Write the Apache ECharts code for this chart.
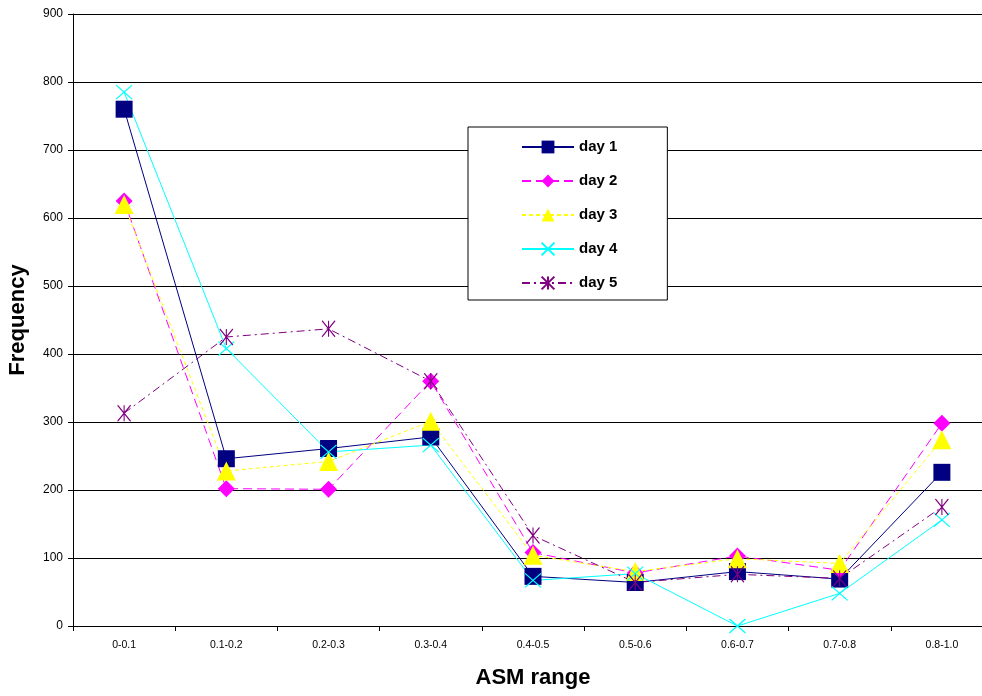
<!DOCTYPE html>
<html>
<head>
<meta charset="utf-8">
<script src="https://cdn.jsdelivr.net/npm/echarts@6/dist/echarts.min.js"></script>
<style>
  html, body { margin: 0; padding: 0; background: #fff; }
  #chart { width: 982px; height: 696px; }
</style>
</head>
<body>
<div id="chart"></div>
<script>
// ASM range bins on the x axis
const categories = ['0-0.1', '0.1-0.2', '0.2-0.3', '0.3-0.4', '0.4-0.5', '0.5-0.6', '0.6-0.7', '0.7-0.8', '0.8-1.0'];

// Frequency per bin for each day
const day1 = [760, 246, 261, 278, 73, 64, 80, 69, 226];
const day2 = [625, 202, 201, 360, 108, 78, 103, 82, 298];
const day3 = [620, 228, 242, 301, 104, 80, 99, 92, 274];
const day4 = [785, 408, 256, 266, 67, 77, 0, 48, 156];
const day5 = [313, 425, 437, 360, 133, 64, 76, 70, 175];

const seriesNames = ['day 1', 'day 2', 'day 3', 'day 4', 'day 5'];

const FONT = '"Liberation Sans", Arial, sans-serif';
const crossPath = 'path://M0,0L10,10M10,0L0,10';
const starPath = 'path://M0,0L10,10M10,0L0,10M5,0L5,10';

const chart = echarts.init(document.getElementById('chart'), null, { renderer: 'canvas' });

function lineSeries(name, data, color, lineType, symbol, size, strokeOnly) {
  return {
    name: name,
    type: 'line',
    data: data,
    symbol: symbol,
    symbolSize: size,
    showAllSymbol: true,
    animation: false,
    lineStyle: { color: color, width: 1, type: lineType },
    itemStyle: strokeOnly
      ? { color: 'rgba(0,0,0,0)', borderColor: color, borderWidth: 1.2 }
      : { color: color, borderColor: color, borderWidth: 0 },
    emphasis: { disabled: true }
  };
}

chart.setOption({
  backgroundColor: '#ffffff',
  animation: false,
  textStyle: { fontFamily: FONT },
  // the last category column runs slightly past the right edge of the canvas
  grid: { left: 73, top: 14, bottom: 70, right: -11, containLabel: false, outerBoundsMode: 'none' },
  legend: {
    orient: 'vertical',
    left: 468,
    top: 127,
    padding: [12, 50, 9, 53],
    itemWidth: 52,
    itemHeight: 16,
    itemGap: 18,
    backgroundColor: '#ffffff',
    borderColor: '#000000',
    borderWidth: 1,
    z: 10,
    textStyle: { fontFamily: FONT, fontSize: 15, fontWeight: 'bold', color: '#000', lineHeight: 16 },
    data: seriesNames
  },
  xAxis: {
    type: 'category',
    data: categories,
    boundaryGap: true,
    name: 'ASM range',
    nameLocation: 'middle',
    nameGap: 41,
    nameTextStyle: { fontFamily: FONT, fontSize: 22, fontWeight: 'bold', color: '#000' },
    axisLine: { lineStyle: { color: '#000', width: 1 } },
    axisTick: { show: true, length: 5, alignWithLabel: false, lineStyle: { color: '#000' } },
    axisLabel: { fontFamily: FONT, fontSize: 10.5, color: '#000', margin: 14 },
    splitLine: { show: false }
  },
  yAxis: {
    type: 'value',
    min: 0,
    max: 900,
    interval: 100,
    name: 'Frequency',
    nameLocation: 'middle',
    nameGap: 44,
    nameRotate: 90,
    nameTextStyle: { fontFamily: FONT, fontSize: 22, fontWeight: 'bold', color: '#000' },
    axisLine: { show: true, lineStyle: { color: '#000', width: 1 } },
    axisTick: { show: true, length: 5, lineStyle: { color: '#000' } },
    axisLabel: { fontFamily: FONT, fontSize: 12, color: '#000', margin: 10 },
    splitLine: { show: true, lineStyle: { color: '#000', width: 1 } }
  },
  series: [
    lineSeries('day 1', day1, '#000080', 'solid', 'rect', 17, false),
    lineSeries('day 2', day2, '#FF00FF', [9, 5], 'diamond', 17, false),
    lineSeries('day 3', day3, '#FFFF00', [4, 3], 'triangle', 19, false),
    lineSeries('day 4', day4, '#00FFFF', 'solid', crossPath, [16, 14], true),
    lineSeries('day 5', day5, '#800080', [8, 4, 2, 4], starPath, [13, 16], true)
  ]
});
</script>
</body>
</html>
